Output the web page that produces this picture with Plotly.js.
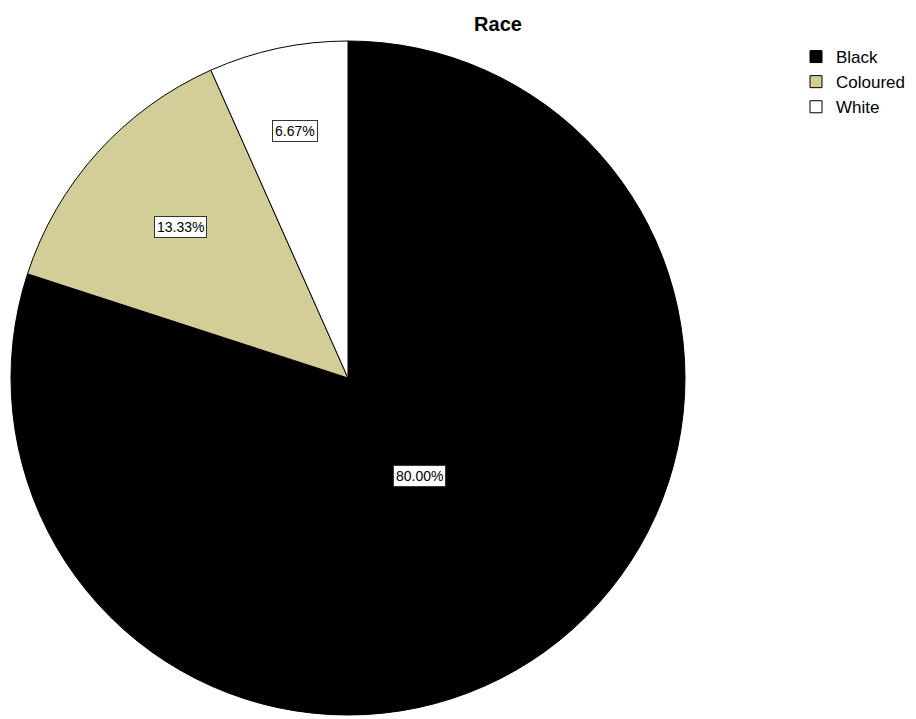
<!DOCTYPE html>
<html>
<head>
<meta charset="utf-8">
<script src="https://cdn.plot.ly/plotly-3.0.1.min.js"></script>
<style>html,body{margin:0;padding:0;background:#fff}#chart{width:916px;height:719px}</style>
</head>
<body>
<div id="chart"></div>
<script>
var categories = ["Black", "Coloured", "White"];
var values = [80.00, 13.33, 6.67];
var labelsText = ["80.00%", "13.33%", "6.67%"];
var colors = ["#000000", "#d3ce97", "#ffffff"];

var W = 916, H = 719;
var cx = 348, cy = 378, R = 337;
var labelFrac = [0.36, 0.67, 0.75];

var total = values.reduce(function(a, b) { return a + b; }, 0);
var annotations = [];
var cum = 0;
for (var i = 0; i < values.length; i++) {
  var mid = (cum + values[i] / 2) / total * 2 * Math.PI;
  cum += values[i];
  var r = R * labelFrac[i];
  var px = cx + Math.sin(mid) * r;
  var py = cy - Math.cos(mid) * r;
  annotations.push({
    x: px / W, y: 1 - py / H, xref: "paper", yref: "paper",
    xanchor: "center", yanchor: "middle",
    text: labelsText[i], showarrow: false,
    font: {family: "Liberation Sans, Arial, sans-serif", size: 14, color: "#000"},
    bgcolor: "#ffffff", bordercolor: "#333333", borderwidth: 1, borderpad: 2
  });
}

var data = [{
  type: "pie",
  labels: categories,
  values: values,
  sort: false,
  direction: "clockwise",
  rotation: 0,
  textinfo: "none",
  hoverinfo: "label+percent",
  marker: {colors: colors, line: {color: "#000000", width: 1}},
  domain: {x: [(cx - R) / W, (cx + R) / W], y: [1 - (cy + R) / H, 1 - (cy - R) / H]}
}];

var layout = {
  width: W, height: H,
  margin: {l: 0, r: 0, t: 0, b: 0},
  paper_bgcolor: "#ffffff",
  title: {text: "<b>Race</b>", x: 498 / W, xanchor: "center", y: 1 - 24 / H, yanchor: "middle",
          font: {family: "Liberation Sans, Arial, sans-serif", size: 20, color: "#000"}},
  showlegend: true,
  legend: {x: 796 / W, y: 1 - 39 / H, xanchor: "left", yanchor: "top",
           font: {family: "Liberation Sans, Arial, sans-serif", size: 17, color: "#000"},
           tracegroupgap: 0, itemwidth: 30},
  annotations: annotations
};

Plotly.newPlot("chart", data, layout, {displayModeBar: false});
</script>
</body>
</html>
